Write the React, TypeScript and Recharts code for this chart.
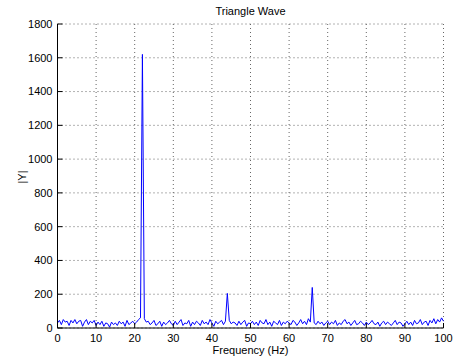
import { LineChart, Line, XAxis, YAxis, CartesianGrid } from 'recharts'

// spectrum sampled every 0.5 Hz, 0..100 Hz
const freqStep = 0.5
const magnitude = [
  // 0 - 10 Hz
  30, 45, 20, 50, 35, 40, 15, 45, 30, 50, 25, 40, 45, 10, 35, 50, 20, 40, 30, 45, 15,
  // 10.5 - 20 Hz
  35, 20, 40, 10, 30, 25, 5, 35, 20, 30, 15, 40, 25, 35, 10, 45, 20, 30, 40, 25,
  // 20.5 - 21.5 Hz
  35, 50, 60,
  // 22 Hz fundamental
  1620,
  // 22.5 - 30 Hz
  55, 35, 40, 20, 30, 45, 15, 25, 40, 10, 35, 20, 30, 45, 25, 15,
  // 30.5 - 43.5 Hz
  40, 20, 35, 50, 15, 30, 25, 45, 10, 35, 20, 40, 30, 15, 45, 25, 35, 20, 50, 30, 10, 40, 25, 35, 45, 20, 40,
  // 44 Hz harmonic
  205,
  // 44.5 - 65.5 Hz
  45, 25, 35, 30, 15, 40, 20, 35, 45, 10, 30, 25, 40, 20, 35, 15, 45, 30, 25, 50,
  20, 35, 10, 40, 30, 20, 45, 15, 35, 25, 40, 30, 20, 45, 35, 15, 30, 50, 25, 40, 20, 55, 35,
  // 66 Hz harmonic
  240,
  // 66.5 - 100 Hz
  30, 20, 40, 25, 35, 15, 30, 40, 20, 35, 25, 45, 15, 30, 20, 40, 50, 25, 35, 15,
  30, 45, 20, 25, 40, 30, 15, 35, 20, 30, 45, 25, 20, 35, 10, 30, 40, 20, 35, 25,
  15, 30, 45, 20, 35, 30, 10, 25, 40, 20, 35, 15, 45, 25, 30, 50, 20, 35, 40, 15,
  45, 30, 55, 25, 50, 35, 60, 40,
]
const xTicks = [0, 10, 20, 30, 40, 50, 60, 70, 80, 90, 100]
const yTicks = [0, 200, 400, 600, 800, 1000, 1200, 1400, 1600, 1800]

const data = magnitude.map((m, i) => ({ f: i * freqStep, m }))

const font = '"Liberation Sans", Arial, Helvetica, sans-serif'
const tickStyle = { fontSize: 11, fill: '#000', fontFamily: font }
const noLabel = () => ''

export default function App() {
  return (
    <div style={{ position: 'absolute', left: 0, top: 0, width: 454, height: 360, background: '#fff', fontFamily: font }}>
      <LineChart
        width={454}
        height={360}
        data={data}
        margin={{ top: 24, right: 10.5, left: 0.5, bottom: 0 }}
      >
        <CartesianGrid stroke="#666" strokeDasharray="1 3" />
        <XAxis
          dataKey="f"
          type="number"
          domain={[0, 100]}
          ticks={xTicks}
          height={32}
          tick={tickStyle}
          stroke="#000"
          tickSize={-5}
          tickMargin={11}
          interval={0}
        />
        <YAxis
          type="number"
          domain={[0, 1800]}
          ticks={yTicks}
          width={57}
          tick={tickStyle}
          stroke="#000"
          tickSize={-5}
          tickMargin={10}
          interval={0}
        />
        <XAxis
          xAxisId="top"
          orientation="top"
          dataKey="f"
          type="number"
          domain={[0, 100]}
          ticks={xTicks}
          height={0}
          stroke="#000"
          tickSize={-5}
          tickFormatter={noLabel}
        />
        <YAxis
          yAxisId="right"
          orientation="right"
          type="number"
          domain={[0, 1800]}
          ticks={yTicks}
          width={0}
          stroke="#000"
          tickSize={-5}
          tickFormatter={noLabel}
        />
        <Line
          type="linear"
          dataKey="m"
          stroke="#0000ff"
          strokeWidth={1}
          dot={false}
          isAnimationActive={false}
        />
      </LineChart>
      <div style={{ position: 'absolute', left: 57, width: 387, top: 5, lineHeight: '12px', textAlign: 'center', fontSize: 11 }}>
        Triangle Wave
      </div>
      <div style={{ position: 'absolute', left: 57, width: 387, top: 344, lineHeight: '12px', textAlign: 'center', fontSize: 11 }}>
        Frequency (Hz)
      </div>
      <div
        style={{
          position: 'absolute',
          left: 22,
          top: 177,
          fontSize: 11,
          lineHeight: '12px',
          transform: 'translate(-50%, -50%) rotate(-90deg)',
          whiteSpace: 'nowrap',
        }}
      >
        |Y|
      </div>
    </div>
  )
}
